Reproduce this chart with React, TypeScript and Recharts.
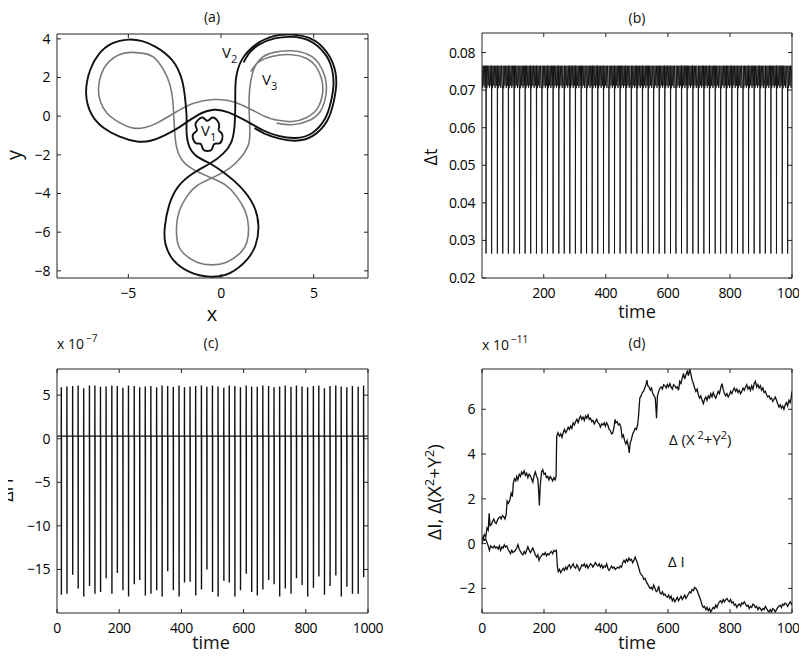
import React from 'react';
import { LineChart, Line, XAxis, YAxis } from 'recharts';

const FONT = '"Open Sans", "DejaVu Sans", sans-serif';

// ---------- Panel (a): vortex trajectories ----------
const xTicksA = [-5, 0, 5];
const yTicksA = [-8, -6, -4, -2, 0, 2, 4];
const xDomainA: [number, number] = [-8.85, 7.93];
const yDomainA: [number, number] = [-8.37, 4.25];

const v1Path: [number, number][] = [
  [-0.14, -0.73], [-0.1, -0.45], [-0.24, -0.18], [-0.49, -0.08], [-0.73, -0.24], [-0.97, -0.08],
  [-1.22, -0.18], [-1.38, -0.45], [-1.3, -0.73], [-1.5, -0.93], [-1.5, -1.2], [-1.34, -1.41],
  [-1.09, -1.44], [-0.97, -1.71], [-0.73, -1.8], [-0.49, -1.71], [-0.37, -1.44], [-0.1, -1.41],
  [0.06, -1.2], [0.06, -0.93], [-0.14, -0.73],
];

const v2Path: [number, number][] = [
  [1.22, 2.78], [1.55, 3.3], [2.1, 3.72], [2.9, 4.02], [3.82, 4.1], [4.7, 3.93], [5.4, 3.45],
  [5.9, 2.7], [6.07, 1.7], [5.93, 0.75], [5.6, -0.15], [4.9, -0.88], [4.0, -1.13], [3.1, -1.02],
  [2.3, -0.74], [1.3, -0.22], [0.4, 0.2], [-0.4, 0.33], [-1.3, 0.03], [-2.2, -0.54], [-3.1, -1.02],
  [-3.8, -1.27], [-4.54, -1.31], [-5.5, -1.05], [-6.34, -0.6], [-6.97, 0.07], [-7.28, 1.19],
  [-7.06, 2.39], [-6.6, 3.2], [-5.9, 3.75], [-4.99, 3.96], [-4.25, 3.88], [-3.55, 3.6],
  [-2.65, 2.91], [-2.11, 1.88], [-1.93, 0.84], [-1.86, -0.02], [-1.86, -0.8], [-1.72, -1.55],
  [-1.3, -2.08], [-0.6, -2.45], [0.2, -2.95], [1.03, -3.64], [1.75, -4.6], [2.02, -5.71],
  [1.85, -6.7], [1.39, -7.43], [0.5, -8.1], [-0.59, -8.3], [-1.7, -8.05], [-2.58, -7.43],
  [-3.0, -6.6], [-3.03, -5.71], [-2.8, -4.6], [-2.31, -3.64], [-1.5, -2.95], [-0.6, -2.45],
  [0.1, -1.95], [0.55, -1.35], [0.72, -0.6], [0.76, 0.1], [0.77, 0.84], [0.8, 1.88], [1.12, 2.91],
  [1.9, 3.72], [2.9, 4.15], [3.82, 4.22], [4.75, 4.05], [5.5, 3.55], [6.05, 2.7], [6.22, 1.7],
  [6.07, 0.7], [5.72, -0.25], [4.95, -1.02], [4.0, -1.27], [3.1, -1.15], [2.35, -0.9], [1.8, -0.62],
];

const v3Path: [number, number][] = [
  [1.6, 2.3], [2.0, 2.78], [2.8, 3.1], [3.82, 3.18], [4.6, 3.0], [5.1, 2.6], [5.42, 1.95],
  [5.48, 1.2], [5.2, 0.4], [4.6, -0.08], [3.82, -0.28], [3.0, -0.2], [2.38, -0.02], [1.12, 0.58],
  [0.3, 0.82], [-0.4, 0.86], [-1.48, 0.67], [-2.38, 0.24], [-3.46, -0.36], [-4.05, -0.57],
  [-4.72, -0.62], [-5.5, -0.32], [-6.16, 0.16], [-6.52, 0.8], [-6.61, 1.45], [-6.45, 2.2],
  [-6.05, 2.82], [-5.5, 3.18], [-4.9, 3.3], [-4.2, 3.25], [-3.64, 3.05], [-3.1, 2.39],
  [-2.75, 1.6], [-2.6, 0.8], [-2.55, 0.0], [-2.5, -0.8], [-2.42, -1.5], [-2.15, -2.2],
  [-1.5, -2.75], [-0.5, -3.2], [0.3, -3.6], [0.85, -4.16], [1.3, -4.9], [1.48, -5.71],
  [1.4, -6.5], [1.03, -7.08], [0.3, -7.55], [-0.5, -7.69], [-1.3, -7.55], [-2.04, -7.08],
  [-2.35, -6.5], [-2.4, -5.71], [-2.25, -4.9], [-1.85, -4.16], [-1.3, -3.6], [-0.5, -3.2],
  [0.45, -2.7], [1.1, -2.1], [1.5, -1.4], [1.55, -0.6], [1.52, 0.2], [1.52, 1.01], [1.6, 1.8],
  [1.78, 2.45], [2.15, 2.98], [2.85, 3.3], [3.82, 3.38], [4.72, 3.18], [5.28, 2.72], [5.62, 2.0],
  [5.67, 1.2], [5.38, 0.28], [4.72, -0.24], [3.85, -0.44], [3.0, -0.36],
];

// ---------- Panels (b) and (c): periodic close encounters ----------
const spikeTimes = [
  14, 32, 50.5, 68, 86, 104.5, 122, 140, 158, 176.5, 194, 212, 230, 248.5, 266, 284, 302, 320.5,
  338, 356, 374, 392.5, 410, 428, 446, 464.5, 482, 500, 518, 536.5, 554, 572, 590, 608.5, 626,
  644, 662, 680.5, 698, 716, 734, 752.5, 770, 788, 806, 824.5, 842, 860, 878, 896.5, 914, 932,
  950, 968.5, 986,
];
const xTicksB = [200, 400, 600, 800, 1000];
const yTicksB = [0.02, 0.03, 0.04, 0.05, 0.06, 0.07, 0.08];
const bLead: [number, number][] = [[1, 0.0765], [3, 0.0705], [5, 0.0765], [7, 0.0712], [9, 0.0765], [11, 0.0706], [13, 0.0765]];
const bBandOffsets = [0.6, 2.7, 4.8, 6.9, 9.0, 11.1, 13.2, 15.3, 17.2];
const bBandValues = [0.0765, 0.0705, 0.0765, 0.0712, 0.0765, 0.0706, 0.0765, 0.0712, 0.0765];
const bSpikeMin = 0.0265;
const bPreSpike = 0.0705;

const xTicksC = [0, 200, 400, 600, 800, 1000];
const yTicksC = [-15, -10, -5, 0, 5];
const cBaseline = 0.3;
const cTops = [
  5.9, 6.0, 6.05, 6.1, 5.8, 6.1, 6.1, 5.95, 6.0, 6.1, 6.05, 5.85, 6.1, 6.05, 5.9, 6.0, 6.05, 5.9,
  6.1, 6.05, 5.95, 6.1, 5.9, 6.0, 6.05, 6.1, 5.95, 6.1, 6.0, 5.85, 6.1, 6.05, 5.9, 6.1, 6.0, 5.95,
  6.1, 6.05, 5.9, 6.0, 6.1, 5.95, 6.1, 6.0, 5.9, 6.05, 6.1, 5.8, 6.05, 6.1, 6.0, 5.9, 6.05, 5.95, 6.1,
];
const cBottoms = [
  -17.9, -17.8, -15.6, -17.2, -18.1, -16.9, -17.8, -17.6, -16.0, -17.8, -15.4, -17.4, -18.1, -16.7,
  -16.2, -18.0, -17.8, -17.4, -18.1, -15.2, -17.4, -18.1, -16.5, -16.4, -18.0, -17.3, -15.0, -17.6,
  -18.1, -16.3, -16.5, -18.1, -17.4, -15.5, -17.6, -18.0, -17.3, -16.2, -16.7, -18.1, -17.2, -17.8,
  -16.0, -16.8, -18.1, -17.1, -15.8, -17.9, -16.9, -15.7, -18.1, -17.0, -17.8, -17.8, -15.9,
];

// ---------- Panel (d): drifts of invariants ----------
const xTicksD = [0, 200, 400, 600, 800, 1000];
const yTicksD = [-2, 0, 2, 4, 6];
const dXY: [number, number][] = [
  [0, 0.0], [4, 0.25], [8, 0.4], [12, 0.3], [16, 0.7], [20, 0.6], [23, 1.35], [26, 0.8], [30, 0.85],
  [34, 1.0], [38, 1.1], [42, 0.95], [46, 0.9], [50, 1.05], [54, 1.15], [58, 1.2], [62, 1.1], [66, 1.25],
  [70, 1.2], [74, 1.1], [78, 1.3], [81, 1.9], [85, 1.8], [90, 1.95], [94, 2.25], [98, 2.1], [101, 2.7],
  [105, 2.9], [109, 2.8], [112, 3.0], [116, 2.85], [120, 3.1], [124, 3.0], [128, 3.2], [132, 3.1],
  [136, 3.25], [140, 3.05], [144, 3.15], [148, 2.95], [152, 3.1], [155, 3.05], [160, 2.9], [164, 2.75],
  [168, 3.05], [172, 3.2], [176, 3.0], [180, 2.9], [183, 2.3], [185, 1.7], [188, 2.6], [192, 3.2],
  [196, 3.3], [200, 3.1], [204, 3.15], [208, 2.95], [212, 3.0], [216, 2.85], [220, 3.0], [224, 2.9],
  [228, 2.8], [232, 2.95], [236, 2.85], [239, 3.0], [241, 4.8], [245, 4.95], [250, 4.8], [254, 4.9],
  [258, 4.75], [262, 4.95], [266, 5.1], [270, 4.95], [274, 5.05], [278, 5.2], [282, 5.1], [286, 5.25],
  [290, 5.15], [294, 5.4], [298, 5.3], [302, 5.45], [306, 5.55], [310, 5.4], [314, 5.6], [318, 5.7],
  [322, 5.55], [326, 5.65], [330, 5.5], [334, 5.7], [338, 5.6], [342, 5.75], [346, 5.55], [350, 5.6],
  [354, 5.45], [358, 5.5], [362, 5.35], [366, 5.45], [370, 5.55], [374, 5.4], [378, 5.35], [382, 5.2],
  [386, 5.35], [390, 5.3], [394, 5.4], [398, 5.25], [402, 5.4], [406, 5.3], [410, 5.1], [414, 5.05],
  [418, 4.9], [422, 4.95], [426, 5.2], [429, 5.55], [432, 5.4], [436, 5.45], [440, 5.3], [444, 5.35],
  [448, 5.2], [452, 4.75], [456, 4.85], [460, 4.6], [464, 4.45], [468, 4.6], [472, 4.35], [475, 4.05],
  [478, 4.5], [482, 4.65], [486, 4.9], [490, 5.0], [494, 5.15], [498, 5.1], [502, 5.3], [505, 5.7],
  [509, 6.5], [513, 6.6], [517, 6.75], [521, 6.8], [525, 6.95], [529, 7.1], [532, 7.3], [535, 7.05],
  [539, 7.0], [543, 6.85], [547, 6.95], [551, 6.7], [555, 6.6], [559, 6.5], [563, 5.6], [566, 6.6],
  [570, 6.8], [574, 6.95], [578, 7.0], [582, 6.9], [586, 7.1], [590, 7.05], [594, 6.95], [598, 7.1],
  [602, 7.0], [606, 7.15], [610, 7.0], [614, 6.9], [618, 7.1], [622, 7.05], [626, 6.95], [630, 7.0],
  [634, 6.85], [638, 7.25], [642, 7.15], [646, 7.4], [650, 7.6], [654, 7.35], [658, 7.55], [662, 7.7],
  [666, 7.5], [670, 7.8], [674, 7.55], [678, 7.3], [682, 7.15], [686, 6.95], [690, 6.8], [694, 6.9],
  [698, 6.65], [702, 6.5], [706, 6.6], [710, 6.4], [714, 6.25], [718, 6.45], [722, 6.55], [726, 6.4],
  [730, 6.6], [734, 6.5], [738, 6.7], [742, 6.55], [746, 6.75], [750, 6.6], [754, 6.5], [758, 6.65],
  [762, 6.8], [766, 6.7], [770, 6.95], [774, 7.15], [778, 6.9], [782, 6.7], [786, 6.6], [790, 6.7],
  [794, 6.55], [798, 6.65], [802, 6.8], [806, 6.7], [810, 6.85], [814, 6.95], [818, 6.8], [822, 6.9],
  [826, 6.75], [830, 6.85], [834, 6.7], [838, 6.8], [842, 6.95], [846, 6.85], [850, 7.0], [854, 7.1],
  [858, 6.9], [862, 7.0], [866, 6.85], [870, 7.05], [874, 6.9], [878, 7.15], [882, 7.25], [886, 7.0],
  [890, 7.1], [894, 6.95], [898, 7.05], [902, 6.85], [906, 6.95], [910, 6.75], [914, 6.8], [918, 6.65],
  [922, 6.55], [926, 6.6], [930, 6.45], [934, 6.5], [938, 6.35], [942, 6.45], [946, 6.55], [950, 6.4],
  [954, 6.25], [958, 6.1], [962, 6.2], [966, 6.05], [970, 6.15], [974, 6.0], [978, 6.2], [982, 6.3],
  [986, 6.15], [990, 6.4], [994, 6.3], [997, 6.5], [1000, 6.8],
];
const dI: [number, number][] = [
  [0, 0.0], [4, 0.3], [8, 0.15], [12, 0.2], [16, 0.05], [20, -0.1], [24, -0.3], [28, -0.1], [32, -0.15],
  [36, -0.2], [40, -0.1], [44, -0.2], [48, -0.15], [52, -0.25], [56, -0.1], [60, -0.3], [64, -0.15],
  [68, -0.2], [72, -0.05], [76, -0.15], [80, -0.1], [84, -0.25], [88, -0.35], [92, -0.45], [96, -0.3],
  [100, -0.4], [104, -0.35], [108, -0.3], [112, -0.2], [116, -0.05], [120, -0.25], [124, -0.35],
  [128, -0.45], [132, -0.5], [136, -0.35], [140, -0.45], [144, -0.3], [148, -0.15], [152, -0.3],
  [156, -0.4], [160, -0.3], [164, -0.2], [168, -0.35], [172, -0.5], [176, -0.6], [180, -0.5],
  [184, -0.75], [188, -0.6], [192, -0.55], [196, -0.45], [200, -0.5], [204, -0.4], [208, -0.55],
  [212, -0.45], [216, -0.5], [220, -0.4], [224, -0.35], [228, -0.45], [232, -0.3], [236, -0.35],
  [240, -0.3], [243, -1.0], [246, -1.25], [250, -1.15], [254, -1.3], [258, -1.2], [262, -1.1],
  [266, -1.2], [270, -1.05], [274, -1.15], [278, -1.0], [282, -0.95], [286, -1.1], [290, -1.0],
  [294, -0.9], [298, -1.05], [302, -1.1], [306, -0.95], [310, -1.05], [314, -1.2], [318, -1.1],
  [322, -0.95], [326, -1.0], [330, -0.9], [334, -1.05], [338, -0.95], [342, -1.1], [346, -1.0],
  [350, -0.9], [354, -0.95], [358, -1.05], [362, -0.95], [366, -0.85], [370, -0.95], [374, -1.0],
  [378, -0.9], [382, -1.05], [386, -0.95], [390, -1.1], [394, -1.0], [398, -1.05], [402, -0.9],
  [406, -1.1], [410, -1.2], [414, -1.1], [418, -1.0], [422, -1.1], [426, -1.05], [430, -1.15],
  [434, -1.1], [438, -1.05], [442, -1.1], [446, -1.0], [450, -1.05], [454, -0.85], [458, -0.75],
  [462, -0.85], [466, -0.7], [470, -0.8], [474, -0.65], [478, -0.75], [482, -0.7], [486, -0.85],
  [490, -0.75], [494, -0.6], [498, -0.75], [502, -0.9], [506, -1.1], [510, -1.3], [514, -1.4],
  [518, -1.45], [522, -1.6], [526, -1.55], [530, -1.7], [534, -1.8], [538, -1.9], [542, -2.0],
  [546, -1.95], [550, -2.05], [554, -1.85], [558, -2.0], [562, -2.15], [566, -2.1], [570, -1.9],
  [574, -2.2], [578, -2.25], [582, -2.15], [586, -2.3], [590, -2.25], [594, -2.35], [598, -2.4],
  [602, -2.3], [606, -2.45], [610, -2.35], [614, -2.55], [618, -2.45], [622, -2.6], [626, -2.5],
  [630, -2.4], [634, -2.55], [638, -2.45], [642, -2.35], [646, -2.5], [650, -2.4], [654, -2.3],
  [658, -2.45], [662, -2.35], [666, -2.25], [670, -2.15], [674, -2.2], [678, -2.05], [682, -2.1],
  [686, -1.95], [690, -2.0], [694, -2.1], [698, -2.25], [702, -2.4], [706, -2.55], [710, -2.75],
  [714, -2.85], [718, -2.8], [722, -2.95], [726, -2.85], [730, -3.0], [734, -2.9], [738, -3.05],
  [742, -2.95], [746, -2.85], [750, -2.9], [754, -2.75], [758, -2.85], [762, -2.7], [766, -2.6],
  [770, -2.55], [774, -2.65], [778, -2.5], [782, -2.6], [786, -2.5], [790, -2.45], [794, -2.55],
  [798, -2.6], [802, -2.5], [806, -2.65], [810, -2.6], [814, -2.75], [818, -2.7], [822, -2.85],
  [826, -2.75], [830, -2.7], [834, -2.8], [838, -2.65], [842, -2.7], [846, -2.6], [850, -2.7],
  [854, -2.8], [858, -2.75], [862, -2.9], [866, -2.8], [870, -2.85], [874, -2.7], [878, -2.75],
  [882, -2.85], [886, -2.8], [890, -2.95], [894, -2.85], [898, -2.9], [902, -3.0], [906, -2.9],
  [910, -2.95], [914, -2.8], [918, -2.9], [922, -3.0], [926, -3.05], [930, -2.95], [934, -3.05],
  [938, -2.9], [942, -2.95], [946, -3.05], [950, -2.95], [954, -2.85], [958, -2.8], [962, -2.75],
  [966, -2.85], [970, -2.7], [974, -2.75], [978, -2.65], [982, -2.7], [986, -2.8], [990, -2.7],
  [994, -2.6], [998, -2.7], [1000, -2.65],
];

// ---------- build chart rows ----------
type Pt = { x: number; y: number };
const toPts = (arr: [number, number][]): Pt[] => arr.map(([x, y]) => ({ x, y }));

const bData: Pt[] = (() => {
  const out: Pt[] = toPts(bLead);
  spikeTimes.forEach((s, i) => {
    const next = i + 1 < spikeTimes.length ? spikeTimes[i + 1] : 1000.5;
    out.push({ x: s - 0.3, y: bPreSpike });
    out.push({ x: s, y: bSpikeMin });
    bBandOffsets.forEach((o, k) => {
      const t = s + o;
      if (t < next - 0.4 && t <= 1000) out.push({ x: t, y: bBandValues[k] });
    });
  });
  return out;
})();

const cData: Pt[] = (() => {
  const out: Pt[] = [{ x: 0, y: cBaseline }];
  spikeTimes.forEach((s, i) => {
    out.push({ x: s - 0.4, y: cBaseline });
    out.push({ x: s - 0.15, y: cTops[i] ?? 6 });
    out.push({ x: s + 0.1, y: cBottoms[i] ?? -17 });
    out.push({ x: s + 0.35, y: cBaseline });
  });
  out.push({ x: 1000, y: cBaseline });
  return out;
})();

const minus = (s: string) => s.replace('-', '\u2212');
const fmtInt = (v: number) => minus(String(v));
const fmt2 = (v: number) => v.toFixed(2);
const blank = () => '';

const tickStyle = { fill: '#000', fontSize: 14, fontFamily: FONT, letterSpacing: -0.4 };

const MT = 14; // extra room above plot
const MR = 24; // extra room right of plot

type PanelProps = {
  box: [number, number, number, number];
  xDomain: [number, number];
  yDomain: [number, number];
  xTicks: number[];
  yTicks: number[];
  yFmt: (v: number) => string;
  xFmt: (v: number) => string;
  lines: React.ReactNode[];
};

function Panel({ box, xDomain, yDomain, xTicks, yTicks, yFmt, xFmt, lines }: PanelProps) {
  const [x0, y0, x1, y1] = box;
  const W = x1 - x0 + 61 + MR;
  const H = y1 - y0 + 41 + MT;
  const axisCommon = {
    type: 'number' as const,
    allowDataOverflow: true,
    interval: 0 as const,
    tickSize: -4,
    stroke: '#222',
    axisLine: { stroke: '#222', strokeWidth: 1 },
    tickLine: { stroke: '#222' },
  };
  return (
    <div style={{ position: 'absolute', left: x0 - 60, top: y0 - 1 - MT }}>
      <LineChart width={W} height={H} margin={{ top: MT, right: MR, bottom: 0, left: 0 }}>
        <XAxis
          {...axisCommon}
          xAxisId="b"
          dataKey="x"
          orientation="bottom"
          height={40}
          domain={xDomain}
          ticks={xTicks}
          tickFormatter={xFmt}
          tickMargin={14}
          tick={tickStyle}
        />
        <XAxis
          {...axisCommon}
          xAxisId="t"
          dataKey="x"
          orientation="top"
          height={1}
          domain={xDomain}
          ticks={xTicks}
          tickFormatter={blank}
          tickMargin={0}
          tick={tickStyle}
        />
        <YAxis
          {...axisCommon}
          yAxisId="l"
          orientation="left"
          width={60}
          domain={yDomain}
          ticks={yTicks}
          tickFormatter={yFmt}
          tickMargin={11}
          tick={tickStyle}
        />
        <YAxis
          {...axisCommon}
          yAxisId="r"
          orientation="right"
          width={1}
          domain={yDomain}
          ticks={yTicks}
          tickFormatter={blank}
          tickMargin={0}
          tick={tickStyle}
        />
        {lines}
      </LineChart>
    </div>
  );
}

const lineCommon = {
  xAxisId: 'b',
  yAxisId: 'l',
  dataKey: 'y',
  dot: false,
  activeDot: false,
  isAnimationActive: false,
} as const;

export default function App() {
  return (
    <div
      style={{
        position: 'relative',
        width: 807,
        height: 658,
        margin: -8,
        overflow: 'hidden',
        background: '#fff',
        fontFamily: FONT,
      }}
    >
      <Panel
        box={[57, 34, 368, 278]}
        xDomain={xDomainA}
        yDomain={yDomainA}
        xTicks={xTicksA}
        yTicks={yTicksA}
        xFmt={fmtInt}
        yFmt={fmtInt}
        lines={[
          <Line key="v3" {...lineCommon} data={toPts(v3Path)} type="natural" stroke="#7a7a7a" strokeWidth={1.6} />,
          <Line key="v2" {...lineCommon} data={toPts(v2Path)} type="natural" stroke="#111" strokeWidth={1.9} />,
          <Line key="v1" {...lineCommon} data={toPts(v1Path)} type="natural" stroke="#111" strokeWidth={1.9} />,
        ]}
      />
      <Panel
        box={[482, 33, 792, 278]}
        xDomain={[1, 1000]}
        yDomain={[0.02, 0.0852]}
        xTicks={xTicksB}
        yTicks={yTicksB}
        xFmt={fmtInt}
        yFmt={fmt2}
        lines={[<Line key="dt" {...lineCommon} data={bData} type="linear" stroke="#111" strokeWidth={0.9} />]}
      />
      <Panel
        box={[57, 369, 368, 613]}
        xDomain={[0, 1000]}
        yDomain={[-20, 8]}
        xTicks={xTicksC}
        yTicks={yTicksC}
        xFmt={fmtInt}
        yFmt={fmtInt}
        lines={[<Line key="dh" {...lineCommon} data={cData} type="linear" stroke="#111" strokeWidth={1.4} />]}
      />
      <Panel
        box={[482, 369, 792, 613]}
        xDomain={[0, 1000]}
        yDomain={[-3.1, 7.8]}
        xTicks={xTicksD}
        yTicks={yTicksD}
        xFmt={fmtInt}
        yFmt={fmtInt}
        lines={[
          <Line key="xy" {...lineCommon} data={toPts(dXY)} type="linear" stroke="#111" strokeWidth={1.3} />,
          <Line key="di" {...lineCommon} data={toPts(dI)} type="linear" stroke="#111" strokeWidth={1.3} />,
        ]}
      />

      <svg
        width={807}
        height={658}
        style={{ position: 'absolute', left: 0, top: 0, pointerEvents: 'none' }}
        fontFamily={FONT}
        fill="#111"
      >
        <defs>
          <clipPath id="cutc">
            <rect x={8} y={0} width={100} height={658} />
          </clipPath>
        </defs>
        {/* titles */}
        <text x={212} y={22} fontSize={14} textAnchor="middle">(a)</text>
        <text x={637} y={23} fontSize={14} textAnchor="middle">(b)</text>
        <text x={211} y={348} fontSize={14} textAnchor="middle">(c)</text>
        <text x={637} y={348} fontSize={14} textAnchor="middle">(d)</text>

        {/* axis labels */}
        <text x={212} y={321} fontSize={20} textAnchor="middle">x</text>
        <text x={637} y={318} fontSize={18} textAnchor="middle">time</text>
        <text x={211} y={649} fontSize={18} textAnchor="middle">time</text>
        <text x={637} y={649} fontSize={18} textAnchor="middle">time</text>
        <text x={21} y={155} fontSize={20} textAnchor="middle" transform="rotate(-90 21 155)">y</text>
        <text x={437} y={157} fontSize={18} textAnchor="middle" transform="rotate(-90 437 157)">Δt</text>
        <g clipPath="url(#cutc)">
          <text x={13} y={490} fontSize={18} textAnchor="middle" transform="rotate(-90 13 490)">ΔH</text>
        </g>
        <text x={441} y={492} fontSize={19} textAnchor="middle" transform="rotate(-90 441 492)">
          ΔI,  Δ(X<tspan dy={-7} fontSize={13}>2</tspan><tspan dy={7}>+Y</tspan>
          <tspan dy={-7} fontSize={13}>2</tspan><tspan dy={7}>)</tspan>
        </text>

        {/* exponent labels */}
        <text x={57} y={349} fontSize={14}>
          x 10<tspan dx={2} dy={-7} fontSize={10}>−7</tspan>
        </text>
        <text x={482} y={350} fontSize={14}>
          x 10<tspan dx={2} dy={-7} fontSize={10}>−11</tspan>
        </text>

        {/* vortex labels */}
        <text x={222} y={58} fontSize={15}>
          V<tspan dy={5} fontSize={11}>2</tspan>
        </text>
        <text x={262} y={85} fontSize={15}>
          V<tspan dy={5} fontSize={11}>3</tspan>
        </text>
        <text x={201} y={136} fontSize={15}>
          V<tspan dy={5} fontSize={11}>1</tspan>
        </text>

        {/* panel d annotations */}
        <text x={669} y={445} fontSize={15}>
          Δ (X<tspan dy={-6} fontSize={11}> 2</tspan><tspan dy={6}>+Y</tspan>
          <tspan dy={-6} fontSize={11}>2</tspan><tspan dy={6}>)</tspan>
        </text>
        <text x={668} y={567} fontSize={15}>Δ I</text>
      </svg>
    </div>
  );
}
